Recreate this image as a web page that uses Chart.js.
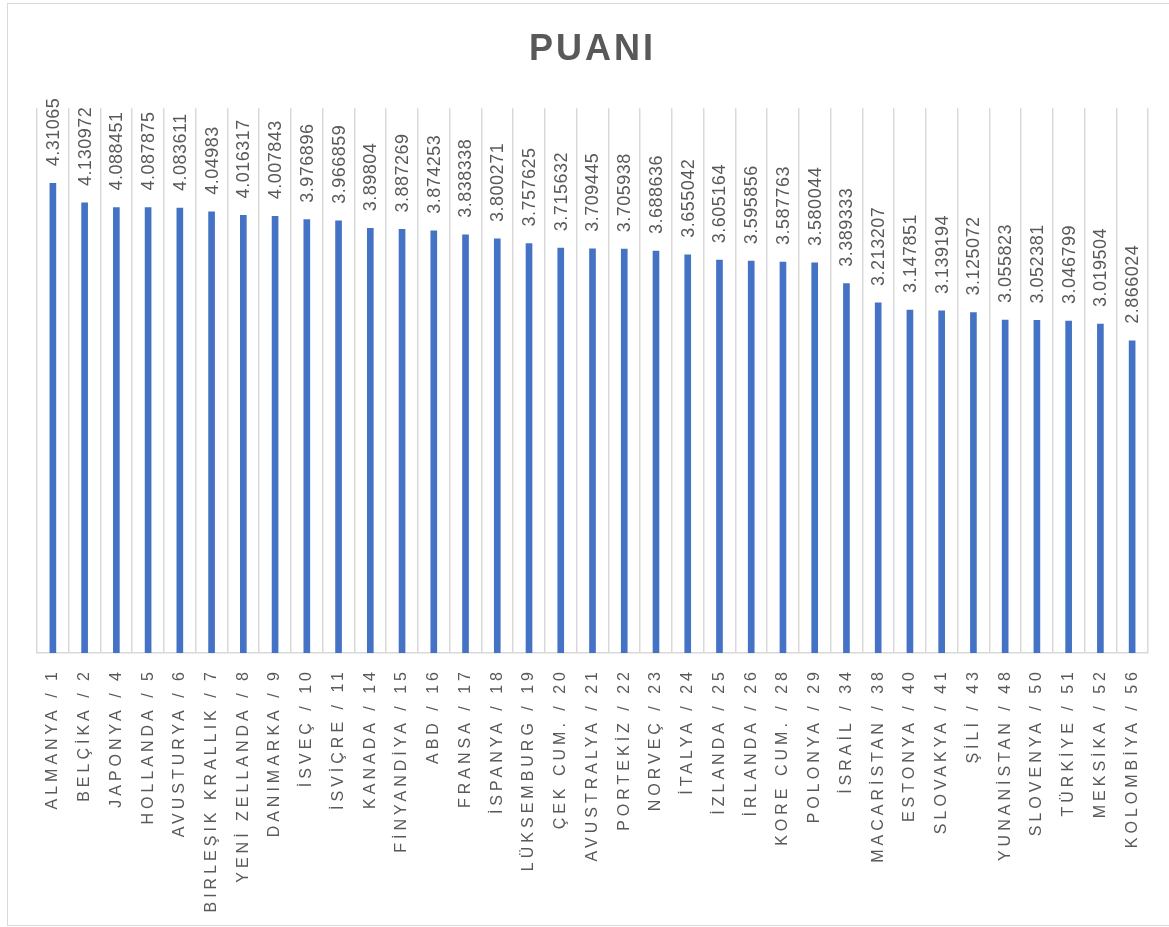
<!DOCTYPE html>
<html>
<head>
<meta charset="utf-8">
<script src="https://cdn.jsdelivr.net/npm/chart.js@4/dist/chart.umd.min.js"></script>
<style>
  html, body { margin: 0; padding: 0; background: #ffffff; overflow: hidden; }
  #wrap { position: relative; width: 1169px; height: 927px; }
  #frame { position: absolute; left: 7px; top: 3px; width: 1180px; height: 923px; box-sizing: border-box;
           border: 1px solid #d9d9d9; pointer-events: none; z-index: 2; }
  canvas { position: absolute; left: 0; top: 0; }
</style>
</head>
<body>
<div id="wrap">
  <canvas id="c" width="1169" height="927"></canvas>
  <div id="frame"></div>
</div>
<script>
const chartTitle = 'PUANI';
const countries = ['ALMANYA', 'BELÇİKA', 'JAPONYA', 'HOLLANDA', 'AVUSTURYA', 'BIRLEŞIK KRALLIK', 'YENİ ZELLANDA',
  'DANIMARKA', 'İSVEÇ', 'İSVİÇRE', 'KANADA', 'FİNYANDİYA', 'ABD', 'FRANSA', 'İSPANYA', 'LÜKSEMBURG', 'ÇEK CUM.',
  'AVUSTRALYA', 'PORTEKİZ', 'NORVEÇ', 'İTALYA', 'İZLANDA', 'İRLANDA', 'KORE CUM.', 'POLONYA', 'İSRAİL',
  'MACARİSTAN', 'ESTONYA', 'SLOVAKYA', 'ŞİLİ', 'YUNANİSTAN', 'SLOVENYA', 'TÜRKİYE', 'MEKSİKA', 'KOLOMBİYA'];
const ranks = [1, 2, 4, 5, 6, 7, 8, 9, 10, 11, 14, 15, 16, 17, 18, 19, 20, 21, 22, 23, 24, 25, 26, 28, 29, 34,
  38, 40, 41, 43, 48, 50, 51, 52, 56];
const scores = [4.31065, 4.130972, 4.088451, 4.087875, 4.083611, 4.04983, 4.016317, 4.007843, 3.976896, 3.966859,
  3.89804, 3.887269, 3.874253, 3.838338, 3.800271, 3.757625, 3.715632, 3.709445, 3.705938, 3.688636, 3.655042,
  3.605164, 3.595856, 3.587763, 3.580044, 3.389333, 3.213207, 3.147851, 3.139194, 3.125072, 3.055823, 3.052381,
  3.046799, 3.019504, 2.866024];

const labels = countries.map((c, i) => c + ' / ' + ranks[i]);
const FONT = "'Liberation Sans', Arial, sans-serif";
const GREY = '#595959';

const helperPlugin = {
  id: 'helper',
  beforeLayout(chart) {
    const ctx = chart.ctx;
    ctx.letterSpacing = '4px';
    const x = chart.scales.x;
    if (x && !x._spacingWrapped) {
      const orig = x.drawLabels;
      x.drawLabels = function (...a) {
        ctx.save(); ctx.letterSpacing = '4px'; orig.apply(this, a); ctx.restore();
      };
      x._spacingWrapped = true;
    }
    const t = chart.titleBlock;
    if (t && !t._spacingWrapped) {
      const origT = t.draw;
      t.draw = function (...a) {
        ctx.save(); ctx.letterSpacing = '3px'; origT.apply(this, a); ctx.restore();
      };
      t._spacingWrapped = true;
    }
  },
  afterLayout(chart) { chart.ctx.letterSpacing = '0px'; },
  afterDatasetsDraw(chart) {
    const ctx = chart.ctx;
    const meta = chart.getDatasetMeta(0);
    const data = chart.data.datasets[0].data;
    ctx.save();
    ctx.letterSpacing = '0.5px';
    ctx.font = '18px ' + FONT;
    ctx.fillStyle = GREY;
    ctx.textAlign = 'left';
    ctx.textBaseline = 'middle';
    meta.data.forEach((bar, i) => {
      ctx.save();
      ctx.translate(bar.x + 1, bar.y - 17);
      ctx.rotate(-Math.PI / 2);
      ctx.fillText(String(data[i]), 0, 0);
      ctx.restore();
    });
    ctx.restore();
  }
};

new Chart(document.getElementById('c'), {
  type: 'bar',
  data: {
    labels: labels,
    datasets: [{
      label: chartTitle,
      data: scores,
      backgroundColor: '#4472c4',
      borderWidth: 0,
      barThickness: 6
    }]
  },
  options: {
    responsive: false,
    animation: false,
    devicePixelRatio: 1,
    layout: { padding: { left: 37, right: 21, top: 0, bottom: 0 } },
    plugins: {
      legend: { display: false },
      tooltip: { enabled: false },
      title: {
        display: true,
        text: chartTitle,
        color: GREY,
        font: { family: FONT, size: 36, weight: 'bold', lineHeight: 1.2 },
        padding: { top: 28, bottom: 37 }
      }
    },
    scales: {
      x: {
        grid: { display: true, offset: true, color: '#d9d9d9', lineWidth: 1.5, drawTicks: false },
        border: { display: true, color: '#d9d9d9', width: 1.5 },
        ticks: {
          autoSkip: false, minRotation: 90, maxRotation: 90, padding: 15,
          color: GREY, font: { family: FONT, size: 16 }
        },
        afterFit(scale) { scale.height = 274; }
      },
      y: {
        display: false,
        min: 0,
        max: 5
      }
    }
  },
  plugins: [helperPlugin]
});
</script>
</body>
</html>
